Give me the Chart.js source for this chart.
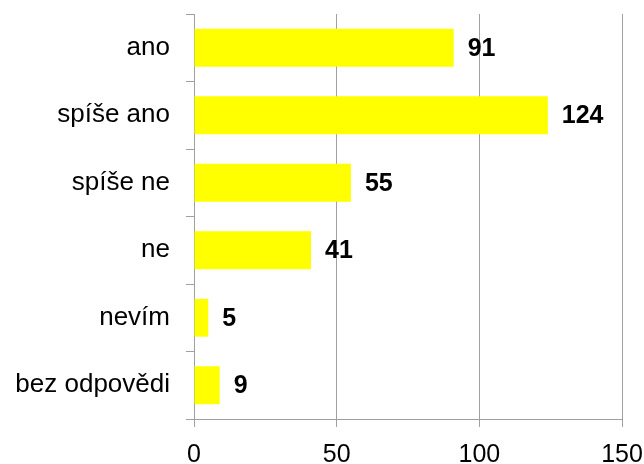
<!DOCTYPE html>
<html>
<head>
<meta charset="utf-8">
<script src="https://cdn.jsdelivr.net/npm/chart.js@4"></script>
<style>
html,body{margin:0;padding:0;background:#fff;}
#wrap{width:644px;height:464px;position:relative;}
</style>
</head>
<body>
<div id="wrap"><canvas id="c" width="644" height="464"></canvas></div>
<script>
const categories = ["ano", "spíše ano", "spíše ne", "ne", "nevím", "bez odpovědi"];
const values = [91, 124, 55, 41, 5, 9];
const xTicks = [0, 50, 100, 150];

const FONT = "'Liberation Sans', Arial, sans-serif";
const GRID = "#a0a0a0";

const valueLabels = {
  id: "valueLabels",
  afterDatasetsDraw(chart) {
    const ctx = chart.ctx;
    const meta = chart.getDatasetMeta(0);
    ctx.save();
    ctx.font = "bold 25px " + FONT;
    ctx.fillStyle = "#000";
    ctx.textAlign = "left";
    ctx.textBaseline = "middle";
    meta.data.forEach((bar, i) => {
      ctx.fillText(String(values[i]), bar.x + 14, bar.y + 1);
    });
    ctx.restore();
  }
};

new Chart(document.getElementById("c"), {
  type: "bar",
  data: {
    labels: categories,
    datasets: [{
      data: values,
      backgroundColor: "#ffff00",
      borderWidth: 0,
      categoryPercentage: 1,
      barPercentage: 0.56
    }]
  },
  options: {
    indexAxis: "y",
    responsive: false,
    animation: false,
    layout: { padding: { top: 14, right: 22, left: 0, bottom: 0 } },
    plugins: { legend: { display: false }, tooltip: { enabled: false } },
    scales: {
      x: {
        min: 0, max: 150,
        afterBuildTicks(scale) { scale.ticks = xTicks.map(v => ({ value: v })); },
        afterFit(scale) { scale.height = 45; scale.paddingLeft = 0; scale.paddingRight = 0; },
        grid: { color: GRID, lineWidth: 1, tickLength: 8, drawOnChartArea: true },
        border: { display: true, color: GRID, width: 1 },
        ticks: { color: "#000", font: { family: FONT, size: 25 }, padding: 13, maxRotation: 0 }
      },
      y: {
        afterFit(scale) { scale.width = 194; scale.paddingTop = 0; scale.paddingBottom = 0; },
        grid: { color: GRID, lineWidth: 1, tickLength: 8, drawOnChartArea: false, offset: true },
        border: { display: true, color: GRID, width: 1 },
        ticks: { color: "#000", font: { family: FONT, size: 26 }, padding: 16 }
      }
    }
  },
  plugins: [valueLabels]
});
</script>
</body>
</html>
